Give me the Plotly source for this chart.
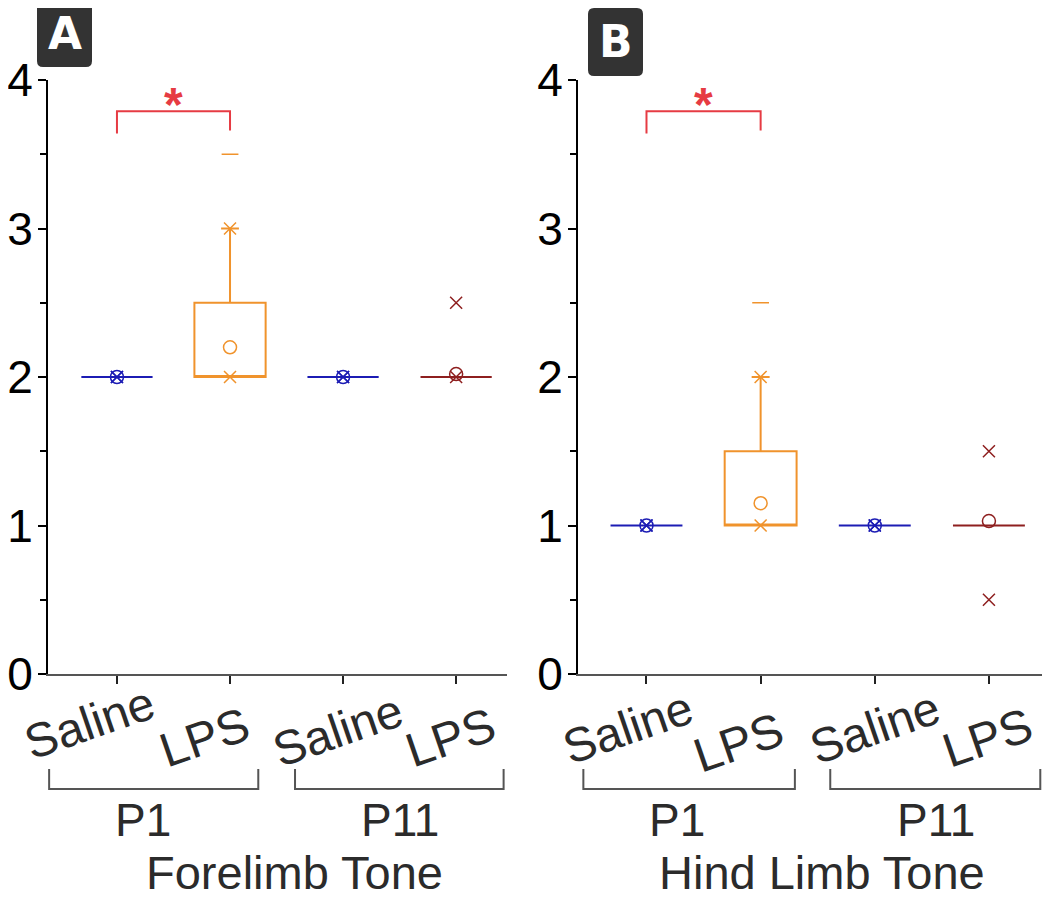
import plotly.graph_objects as go
from plotly.subplots import make_subplots

# x positions / labels
positions = [0, 1, 2, 3]
treatments = ["Saline", "LPS", "Saline", "LPS"]
ages = ["P1", "P11"]
box_colors = ["#1c1cb4", "#f0932c", "#1c1cb4", "#8e1f1f"]

# Forelimb tone (panel A)
fore_q1 = [2, 2, 2, 2]
fore_median = [2, 2, 2, 2]
fore_q3 = [2, 2.5, 2, 2]
fore_lower = [2, 2, 2, 2]
fore_upper = [2, 3, 2, 2]
fore_mean = [2.0, 2.2, 2.0, 2.02]
fore_pct_low = [2, 2, 2, 2]
fore_pct_high = [2, 3, 2, 2.5]
fore_max = [None, 3.5, None, None]

# Hind limb tone (panel B)
hind_q1 = [1, 1, 1, 1]
hind_median = [1, 1, 1, 1]
hind_q3 = [1, 1.5, 1, 1]
hind_lower = [1, 1, 1, 1]
hind_upper = [1, 2, 1, 1]
hind_mean = [1.0, 1.15, 1.0, 1.03]
hind_pct_low = [1, 1, 1, 0.5]
hind_pct_high = [1, 2, 1, 1.5]
hind_max = [None, 2.5, None, None]

titles = ["Forelimb Tone", "Hind Limb Tone"]
letters = ["A", "B"]

FONT = "Liberation Sans, Arial, sans-serif"
OFF = 8  # page body margin
W, H = 1050 - OFF, 901 - OFF
ML, MR, MT, MB = 48 - OFF, 4, 80 - OFF, 227
PW, PH = W - ML - MR, H - MT - MB


# helpers: screen pixel -> paper fraction
def px(x):
    return (x - OFF - ML) / PW


def py(y):
    return (H - MB - (y - OFF)) / PH


fig = make_subplots(rows=1, cols=2, horizontal_spacing=0.07)

panels = [
    (fore_q1, fore_median, fore_q3, fore_lower, fore_upper, fore_mean,
     fore_pct_low, fore_pct_high, fore_max),
    (hind_q1, hind_median, hind_q3, hind_lower, hind_upper, hind_mean,
     hind_pct_low, hind_pct_high, hind_max),
]

for c, (q1, med, q3, lo, hi, mean, plo, phi, mx) in enumerate(panels, start=1):
    for i, xp in enumerate(positions):
        fig.add_trace(go.Box(x=[xp], q1=[q1[i]], median=[med[i]], q3=[q3[i]],
                             lowerfence=[lo[i]], upperfence=[hi[i]],
                             width=0.63, whiskerwidth=0.25,
                             fillcolor="rgba(0,0,0,0)",
                             line=dict(color=box_colors[i], width=2),
                             boxpoints=False, showlegend=False, hoverinfo="skip"),
                      row=1, col=c)
    fig.add_trace(go.Scatter(x=positions + positions, y=plo + phi, mode="markers",
                             marker=dict(symbol="x-thin-open", size=12,
                                         color=box_colors + box_colors,
                                         line=dict(width=1.5, color=box_colors + box_colors)),
                             showlegend=False, hoverinfo="skip"), row=1, col=c)
    fig.add_trace(go.Scatter(x=positions, y=mean, mode="markers",
                             marker=dict(symbol="circle-open", size=13, color=box_colors,
                                         line=dict(width=1.5, color=box_colors)),
                             showlegend=False, hoverinfo="skip"), row=1, col=c)
    fig.add_trace(go.Scatter(x=positions, y=mx, mode="markers",
                             marker=dict(symbol="line-ew-open", size=12, color=box_colors,
                                         line=dict(width=1.5, color=box_colors)),
                             showlegend=False, hoverinfo="skip"), row=1, col=c)

axis_common_x = dict(tickvals=positions, showticklabels=False,
                     ticks="outside", ticklen=8, tickwidth=2, tickcolor="#222",
                     showline=True, linecolor="#555", linewidth=2, showgrid=False,
                     zeroline=False, automargin=False)
axis_common_y = dict(range=[0, 4], tickvals=[0, 1, 2, 3, 4], ticks="outside",
                     ticklen=8, tickwidth=2, tickcolor="black",
                     minor=dict(dtick=0.5, ticks="outside", ticklen=6, tickwidth=2,
                                tickcolor="black"),
                     showline=True, linecolor="black", linewidth=2, showgrid=False,
                     zeroline=False, automargin=False, ticklabelstandoff=-4,
                     ticklabeloverflow="allow",
                     tickfont=dict(family=FONT, size=46, color="black"))

fig.update_xaxes(axis_common_x)
fig.update_yaxes(axis_common_y)
fig.update_xaxes(range=[-0.61, 3.45], domain=[0, px(507)], row=1, col=1)
fig.update_xaxes(range=[-0.6, 3.5], domain=[px(578), 1], row=1, col=2)

shapes = []
annotations = []
group_brackets = [[(-0.60, 1.25), (1.575, 3.42)], [(-0.553, 1.30), (1.61, 3.45)]]
age_x = [[0.23, 2.5], [0.27, 2.54]]
title_x = [1.57, 1.54]
letter_box = [(37, -4, 92, 67), (588, 8, 643, 76)]
# slanted category labels: horizontal offset from tick and vertical centre (px)
label_dx = [[-27, -26, -6, -6], [-19, -22, 0, -1]]
label_cy = [[723, 737, 730, 737], [727, 742, 727, 737]]

for k in range(2):
    xr = "x" if k == 0 else "x2"
    yr = "y" if k == 0 else "y2"
    for i, xp in enumerate(positions):
        annotations.append(dict(x=xp, y=py(label_cy[k][i]), xref=xr, yref="paper",
                                text=treatments[i], showarrow=False, textangle=-19,
                                xanchor="center", yanchor="middle", xshift=label_dx[k][i],
                                font=dict(family=FONT, size=48, color="#2b2b2b")))
    # group brackets under the tick labels
    for j, (a, b) in enumerate(group_brackets[k]):
        shapes.append(dict(type="path", xref=xr, yref="paper",
                           path=f"M {a},{py(769)} L {a},{py(789)} L {b},{py(789)} L {b},{py(769)}",
                           line=dict(color="#555", width=2)))
        annotations.append(dict(x=age_x[k][j], y=py(820), xref=xr, yref="paper",
                                text=ages[j], showarrow=False, yanchor="middle",
                                font=dict(family=FONT, size=46, color="#2b2b2b")))
    annotations.append(dict(x=title_x[k], y=py(901), xref=xr, yref="paper",
                            text=titles[k], showarrow=False, yanchor="bottom",
                            font=dict(family=FONT, size=47, color="#2b2b2b")))
    # significance bracket between Saline and LPS at P1
    shapes.append(dict(type="path", xref=xr, yref=yr,
                       path="M 0,3.64 L 0,3.79 L 1,3.79 L 1,3.66",
                       line=dict(color="#e63b43", width=2)))
    annotations.append(dict(x=0.5, y=3.79, xref=xr, yref=yr, text="<b>*</b>",
                            showarrow=False, yanchor="bottom", yshift=-22,
                            font=dict(family=FONT, size=48, color="#e63b43")))
    # panel letter badge
    x0, y0, x1, y1 = letter_box[k]
    r = 6
    shapes.append(dict(type="path", xref="paper", yref="paper",
                       path=(f"M {px(x0 + r)},{py(y0)} L {px(x1 - r)},{py(y0)} "
                             f"Q {px(x1)},{py(y0)} {px(x1)},{py(y0 + r)} "
                             f"L {px(x1)},{py(y1 - r)} Q {px(x1)},{py(y1)} {px(x1 - r)},{py(y1)} "
                             f"L {px(x0 + r)},{py(y1)} Q {px(x0)},{py(y1)} {px(x0)},{py(y1 - r)} "
                             f"L {px(x0)},{py(y0 + r)} Q {px(x0)},{py(y0)} {px(x0 + r)},{py(y0)} Z"),
                       fillcolor="#333333", line=dict(width=0)))
    annotations.append(dict(x=px((x0 + x1) / 2), y=py((max(y0, 0) + y1) / 2), xref="paper",
                            yref="paper", text=f"<b>{letters[k]}</b>", showarrow=False,
                            xanchor="center", yanchor="middle",
                            font=dict(family="DejaVu Sans, Arial", size=44, color="white")))

fig.update_layout(width=W, height=H, margin=dict(l=ML, r=MR, t=MT, b=MB),
                  plot_bgcolor="white", paper_bgcolor="white", boxmode="overlay",
                  shapes=shapes, annotations=annotations, showlegend=False)

fig.write_html("out.html")
